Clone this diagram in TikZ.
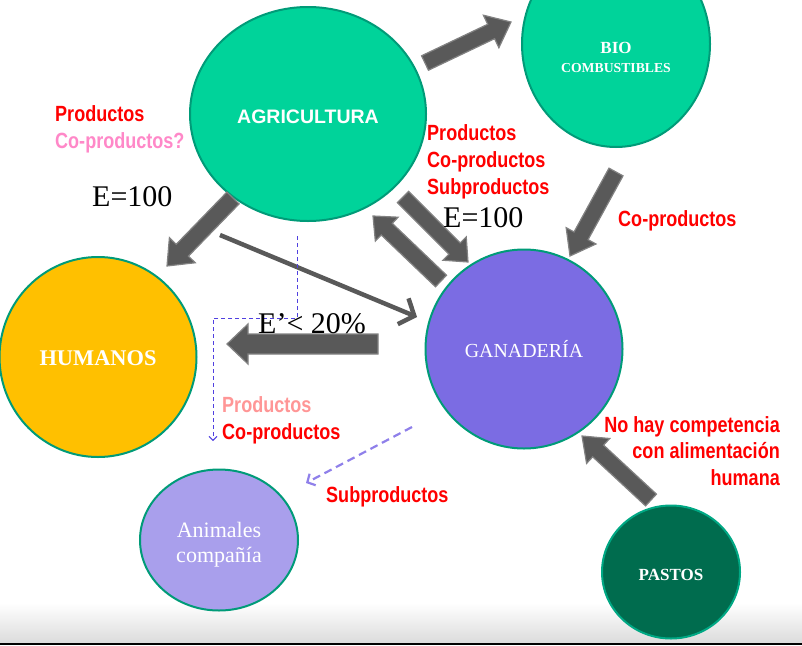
\documentclass[tikz,border=0pt]{standalone}
\usepackage{fontspec}
\setmainfont{Liberation Serif}
\newfontfamily\sansb{Liberation Sans}
\newfontfamily\narrowb[FakeStretch=0.82]{Liberation Sans}
\usetikzlibrary{shapes.geometric,arrows.meta,calc}
\definecolor{agrigreen}{RGB}{0,211,154}
\definecolor{tealedge}{RGB}{0,155,120}
\definecolor{humgold}{RGB}{255,192,0}
\definecolor{ganpurple}{RGB}{123,108,227}
\definecolor{petpurple}{RGB}{169,159,236}
\definecolor{pastgreen}{RGB}{0,108,78}
\definecolor{pastedge}{RGB}{0,168,132}
\definecolor{arrfill}{RGB}{89,89,89}
\definecolor{arredge}{RGB}{130,130,130}
\definecolor{dashblue}{RGB}{80,64,224}
\definecolor{dashpurple}{RGB}{143,128,234}
\definecolor{pinktxt}{RGB}{255,136,200}
\definecolor{salmontxt}{RGB}{255,150,150}
\newcommand{\blockarrow}[5]{%
  \coordinate (ba1) at ($(#2)!#5!(#1)$);
  \draw[blockarr] ($(#1)!#3!90:(#2)$) -- ($(ba1)!#3!-90:(#1)$) -- ($(ba1)!#4!-90:(#1)$)
    -- (#2) -- ($(ba1)!#4!90:(#1)$) -- ($(ba1)!#3!90:(#1)$) -- ($(#1)!#3!-90:(#2)$) -- cycle;
}
\tikzset{
  blob/.style={ellipse, line width=2pt, inner sep=0pt, align=center, text=white},
  blobtxt/.style={inner sep=0pt, text=white, anchor=base},
  blockarr/.style={fill=arrfill, draw=arredge, line width=1.2pt, line join=miter},
  redtxt/.style={font=\narrowb\bfseries\fontsize{22}{27}\selectfont, text=red, inner sep=0pt, anchor=base west, align=left},
  etxt/.style={font=\fontsize{30}{34}\selectfont, inner sep=0pt, anchor=base west},
}
\begin{document}
\begin{tikzpicture}[x=1pt,y=-1pt]
\useasboundingbox (0,0) rectangle (802,645);
% bottom band
\shade[top color=white, bottom color=black!14] (0,603) rectangle (802,643);
\fill[black] (0,643) rectangle (802,645);
% circles
\node[blob, fill=agrigreen, draw=tealedge, minimum width=236pt, minimum height=214pt] (agri) at (308,114) {};
\node[blobtxt, font=\sansb\bfseries\fontsize{19.5}{22}\selectfont] (agritxt) at (308,123) {AGRICULTURA};
\node[blob, fill=agrigreen, draw=tealedge, minimum width=188pt, minimum height=206pt] (bio) at (616,44) {};
\node[blobtxt, font=\bfseries\fontsize{17}{20}\selectfont] (biotxt1) at (616,53) {BIO};
\node[blobtxt, font=\bfseries\fontsize{13.7}{16}\selectfont] (biotxt2) at (616,72) {COMBUSTIBLES};
\node[blob, fill=humgold, draw=tealedge, minimum width=197pt, minimum height=200pt] (hum) at (98,357) {};
\node[blobtxt, font=\bfseries\fontsize{22.4}{26}\selectfont] (humtxt) at (98,365) {HUMANOS};
\node[blob, fill=ganpurple, draw=tealedge, minimum width=197pt, minimum height=199pt] (gan) at (524,349) {};
\node[blobtxt, font=\fontsize{19.9}{22}\selectfont] (gantxt) at (524,357) {GANADER\'IA};
\node[blob, fill=petpurple, draw=tealedge, minimum width=158pt, minimum height=141pt] (pet) at (219,540) {};
\node[blobtxt, font=\fontsize{22}{25}\selectfont] (pettxt1) at (219,537) {Animales};
\node[blobtxt, font=\fontsize{22}{25}\selectfont] (pettxt2) at (219,562) {compañía};
\node[blob, fill=pastgreen, draw=pastedge, minimum width=138pt, minimum height=133pt] (past) at (671,572) {};
\node[blobtxt, font=\bfseries\fontsize{17}{20}\selectfont] (pasttxt) at (671,580) {PASTOS};
% arrow end coordinates
\coordinate (a1s) at (425,63);  \coordinate (a1e) at (511,22);
\coordinate (a2s) at (233,198); \coordinate (a2e) at (167,266);
\coordinate (a3s) at (403,197); \coordinate (a3e) at (468,262);
\coordinate (a4s) at (441,281); \coordinate (a4e) at (373,216);
\coordinate (a5s) at (616,172); \coordinate (a5e) at (570,256);
\coordinate (a6s) at (378,344); \coordinate (a6e) at (227,344);
\coordinate (a7s) at (651,500); \coordinate (a7e) at (582,436);
\blockarrow{a1s}{a1e}{8pt}{18pt}{22pt}
\blockarrow{a2s}{a2e}{8.5pt}{18pt}{22pt}
\blockarrow{a3s}{a3e}{8pt}{16.5pt}{19pt}
\blockarrow{a4s}{a4e}{8pt}{16.5pt}{19pt}
\blockarrow{a5s}{a5e}{8pt}{17pt}{23pt}
\blockarrow{a6s}{a6e}{10pt}{20pt}{21pt}
\blockarrow{a7s}{a7e}{8pt}{17pt}{22pt}
% thin arrow agri -> ganaderia
\coordinate (t1s) at (220,235); \coordinate (t1e) at (417,317);
\draw[arrfill, line width=4.5pt, -{Straight Barb[length=12pt,width=28pt,line width=4.5pt]}] (t1s) -- (t1e);
% dashed blue connector
\coordinate (d1) at (297,236); \coordinate (d2) at (297,318);
\coordinate (d3) at (213,318); \coordinate (d4) at (213,441);
\draw[dashblue, line width=1pt, dash pattern=on 4pt off 3pt, -{Straight Barb[length=4pt,width=8pt]}]
  (d1) -- (d2) -- (d3) -- (d4);
% dashed purple arrow
\coordinate (p1) at (412,427); \coordinate (p2) at (306,483);
\draw[dashpurple, line width=2.2pt, dash pattern=on 8pt off 5pt, -{Straight Barb[length=6pt,width=13pt]}] (p1) -- (p2);
% labels
\node[redtxt] (l1) at (55,121) {Productos};
\node[redtxt, text=pinktxt] (l2) at (55,148) {Co-productos?};
\node[etxt] (e1) at (92,206) {E=100};
\node[redtxt] (l3) at (427,140) {Productos};
\node[redtxt] (l4) at (427,167) {Co-productos};
\node[redtxt] (l5) at (427,194) {Subproductos};
\node[etxt] (e2) at (443,227) {E=100};
\node[redtxt] (l6) at (618,226) {Co-productos};
\node[etxt] (e3) at (258,333) {E’< 20\%};
\node[redtxt, text=salmontxt] (l7) at (222,412) {Productos};
\node[redtxt] (l8) at (222,439) {Co-productos};
\node[redtxt] (l9) at (326,502) {Subproductos};
\node[redtxt, anchor=base east] (l10) at (780,432) {No hay competencia};
\node[redtxt, anchor=base east] (l11) at (780,458) {con alimentación};
\node[redtxt, anchor=base east] (l12) at (780,485) {humana};
\end{tikzpicture}
\end{document}
